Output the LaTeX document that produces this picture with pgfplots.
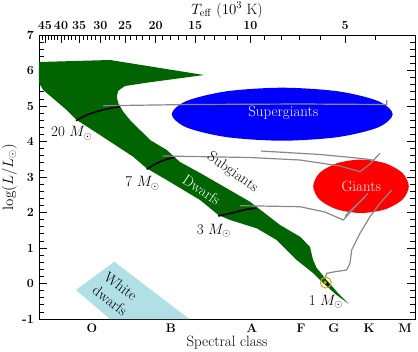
\RequirePackage{fix-cm}
\documentclass[border=0pt]{standalone}
\usepackage{pgfplots}
\pgfplotsset{compat=1.18}
\definecolor{msgreen}{RGB}{0,100,0}
\definecolor{wdblue}{RGB}{176,224,230}
\definecolor{trackgray}{RGB}{136,136,136}
\definecolor{sunorange}{RGB}{225,160,20}
\newcommand{\tl}[1]{\fontsize{12.5}{14}\selectfont\bfseries #1}
\begin{document}
\begin{tikzpicture}
\fontsize{15}{18}\selectfont
\begin{axis}[
  at={(0,0)}, anchor=south west,
  width=376bp, height=284bp, scale only axis,
  xmin=3.477, xmax=4.672, x dir=reverse,
  ymin=-1, ymax=7,
  xtick={4.5037,4.2526,3.9951,3.8394,3.7345,3.6232,3.5088},
  xticklabels={\tl{O},\tl{B},\tl{A},\tl{F},\tl{G},\tl{K},\tl{M}},
  xtick style={draw=none},
  ytick={-1,0,1,2,3,4,5,6,7},
  yticklabels={\tl{-1},\tl{0},\tl{1},\tl{2},\tl{3},\tl{4},\tl{5},\tl{6},\tl{7}},
  minor y tick num=4,
  major tick length=8bp, minor tick length=5bp,
  tick align=inside,
  xlabel={Spectral class},
  ylabel={$\log(L/L_\odot)$},
  xlabel style={at={(axis description cs:0.5,-0.085)}, anchor=center},
  ylabel style={at={(axis description cs:-0.079,0.5)}, anchor=center},
  axis line style={line width=0.9bp},
  every tick/.style={black, line width=0.8bp},
  clip=true,
]
% main sequence band
\addplot[fill=msgreen, draw=none] coordinates {
 (4.672,6.239) (4.4465,6.296) (4.1477,5.873) (4.330,5.656) (4.399,5.563)
 (4.420,5.431) (4.425,5.262) (4.420,5.076) (4.404,4.839) (4.383,4.606)
 (4.319,4.042) (4.266,3.761) (4.224,3.423) (4.160,3.113) (4.0015,2.304)
 (3.906,1.648) (3.8425,1.318) (3.811,1.037) (3.801,0.662) (3.7895,0.437)
 (3.758,0.099) (3.722,-0.268) (3.687,-0.577) (3.726,-0.324) (3.769,0.014)
 (3.801,0.296) (3.853,0.662) (3.9166,1.225) (3.980,1.555) (4.065,1.789)
 (4.102,1.930) (4.160,2.352) (4.266,2.915) (4.330,3.245) (4.373,3.572)
 (4.478,4.183) (4.552,4.606) (4.584,4.887) (4.6585,5.451) (4.672,5.648)
} -- cycle;
% white dwarfs
\addplot[fill=wdblue, draw=none] coordinates {
 (4.5546,-0.183) (4.4328,0.614) (4.1944,-1.0) (4.4465,-1.0)
} -- cycle;
% supergiants
\addplot[fill=blue, draw=none, smooth cycle] coordinates {
 (4.2502,4.769) (4.2031,5.142) (4.0746,5.4155) (3.899,5.5155)
 (3.7234,5.4155) (3.5949,5.142) (3.5478,4.769) (3.5949,4.3957)
 (3.7234,4.1225) (3.899,4.0225) (4.0746,4.1225) (4.2031,4.3957)
};
% giants
\addplot[fill=red, draw=none, smooth cycle] coordinates {
 (3.8005,2.738) (3.7802,3.114) (3.7246,3.389) (3.6486,3.490)
 (3.5726,3.389) (3.5170,3.114) (3.4967,2.738) (3.5170,2.362)
 (3.5726,2.087) (3.6486,1.986) (3.7246,2.087) (3.7802,2.362)
};
% main-sequence tracks (black)
\addplot[black, line width=1.6bp, smooth] coordinates {
 (4.5546,4.586) (4.5206,4.746) (4.4783,4.868) (4.4306,4.963) (4.4147,4.980)};
\addplot[black, line width=1.6bp, smooth] coordinates {
 (4.3298,3.217) (4.2981,3.386) (4.2663,3.499) (4.2399,3.555)};
\addplot[black, line width=1.6bp, smooth] coordinates {
 (4.1022,1.901) (4.0555,1.994) (4.012,2.090) (3.9802,2.118)};
\addplot[black, line width=1.6bp] coordinates {
 (3.7577,0.030) (3.7494,-0.090)};
% post main-sequence tracks (gray)
\addplot[trackgray, line width=1.2bp] coordinates {
 (4.4678,5.008) (4.1922,5.042) (3.8425,5.056) (3.567,5.042) (3.567,5.169)};
\addplot[trackgray, line width=1.2bp] coordinates {
 (4.278,3.592) (4.0015,3.549) (3.8425,3.479) (3.7154,3.310) (3.6518,3.149)
 (3.620,3.366) (3.5883,3.668)};
\addplot[trackgray, line width=1.2bp] coordinates {
 (3.6105,3.479) (3.6518,3.527) (3.779,3.634) (3.9665,3.732)};
\addplot[trackgray, line width=1.2bp] coordinates {
 (4.0333,2.192) (3.8425,2.163) (3.7631,2.014) (3.7049,1.789) (3.6677,2.155)
 (3.6264,2.541)};
\addplot[trackgray, line width=1.2bp] coordinates {
 (3.6359,2.437) (3.690,1.986) (3.6995,1.887)};
\addplot[trackgray, line width=1.2bp] coordinates {
 (3.7631,0.127) (3.7577,0.287) (3.7313,0.332) (3.6941,0.380) (3.6836,0.569)
 (3.6782,0.944) (3.6518,1.414) (3.620,1.882) (3.5883,2.259) (3.5511,2.634)};
% the Sun
\addplot[only marks, mark=o, mark size=5.5bp, sunorange, mark options={line width=1bp}]
 coordinates {(3.7605,0.028)};
\addplot[only marks, mark=*, mark size=1.3bp, sunorange] coordinates {(3.7625,0.028)};
% labels
\node[white] at (axis cs:3.8956,4.817) {Supergiants};
\node[white] at (axis cs:3.6476,2.746) {Giants};
\node[black, rotate=-35] at (axis cs:4.057,3.127) {Subgiants};
\node[white, rotate=-34] at (axis cs:4.155,2.634) {Dwarfs};
\node[black, rotate=-37, align=center] at (axis cs:4.4293,-0.276) {White\\dwarfs};
\node at (axis cs:4.568,4.231) {20 $M_\odot$};
\node at (axis cs:4.343,2.823) {7 $M_\odot$};
\node at (axis cs:4.116,1.479) {3 $M_\odot$};
\node at (axis cs:3.760,-0.513) {1 $M_\odot$};
\end{axis}
\begin{axis}[
  at={(0,0)}, anchor=south west,
  width=376bp, height=284bp, scale only axis,
  xmin=3.477, xmax=4.672, x dir=reverse,
  ymin=-1, ymax=7,
  hide y axis,
  axis x line*=top,
  axis line style={draw=none},
  xtick={3.69897,4,4.17609,4.30103,4.39794,4.47712,4.54407,4.60206,4.65321},
  xticklabels={\tl{5},\tl{10},\tl{15},\tl{20},\tl{25},\tl{30},\tl{35},\tl{40},\tl{45}},
  minor xtick={3.47712,3.60206,3.77815,3.84510,3.90309,3.95424,4.04139,4.07918,
    4.11394,4.14613,4.20412,4.23045,4.25527,4.27875,4.32222,4.34242,4.36173,
    4.38021,4.41497,4.43136,4.44716,4.46240,4.49136,4.50515,4.51851,4.53148,
    4.55630,4.56820,4.57978,4.59106,4.61278,4.62325,4.63347,4.64345,4.66276},
  xtick align=inside,
  major tick length=8bp, minor tick length=5bp,
  every tick/.style={black, line width=0.8bp},
  xlabel={$T_{\rm eff}$ ($10^3$ K)},
  xlabel style={at={(axis description cs:0.5,1.088)}, anchor=center},
]
\addplot[draw=none] coordinates {(4,0)};
\end{axis}
\pgfresetboundingbox
\path[use as bounding box] (-39bp,-33bp) rectangle (379bp,319bp);
\end{tikzpicture}
\end{document}
